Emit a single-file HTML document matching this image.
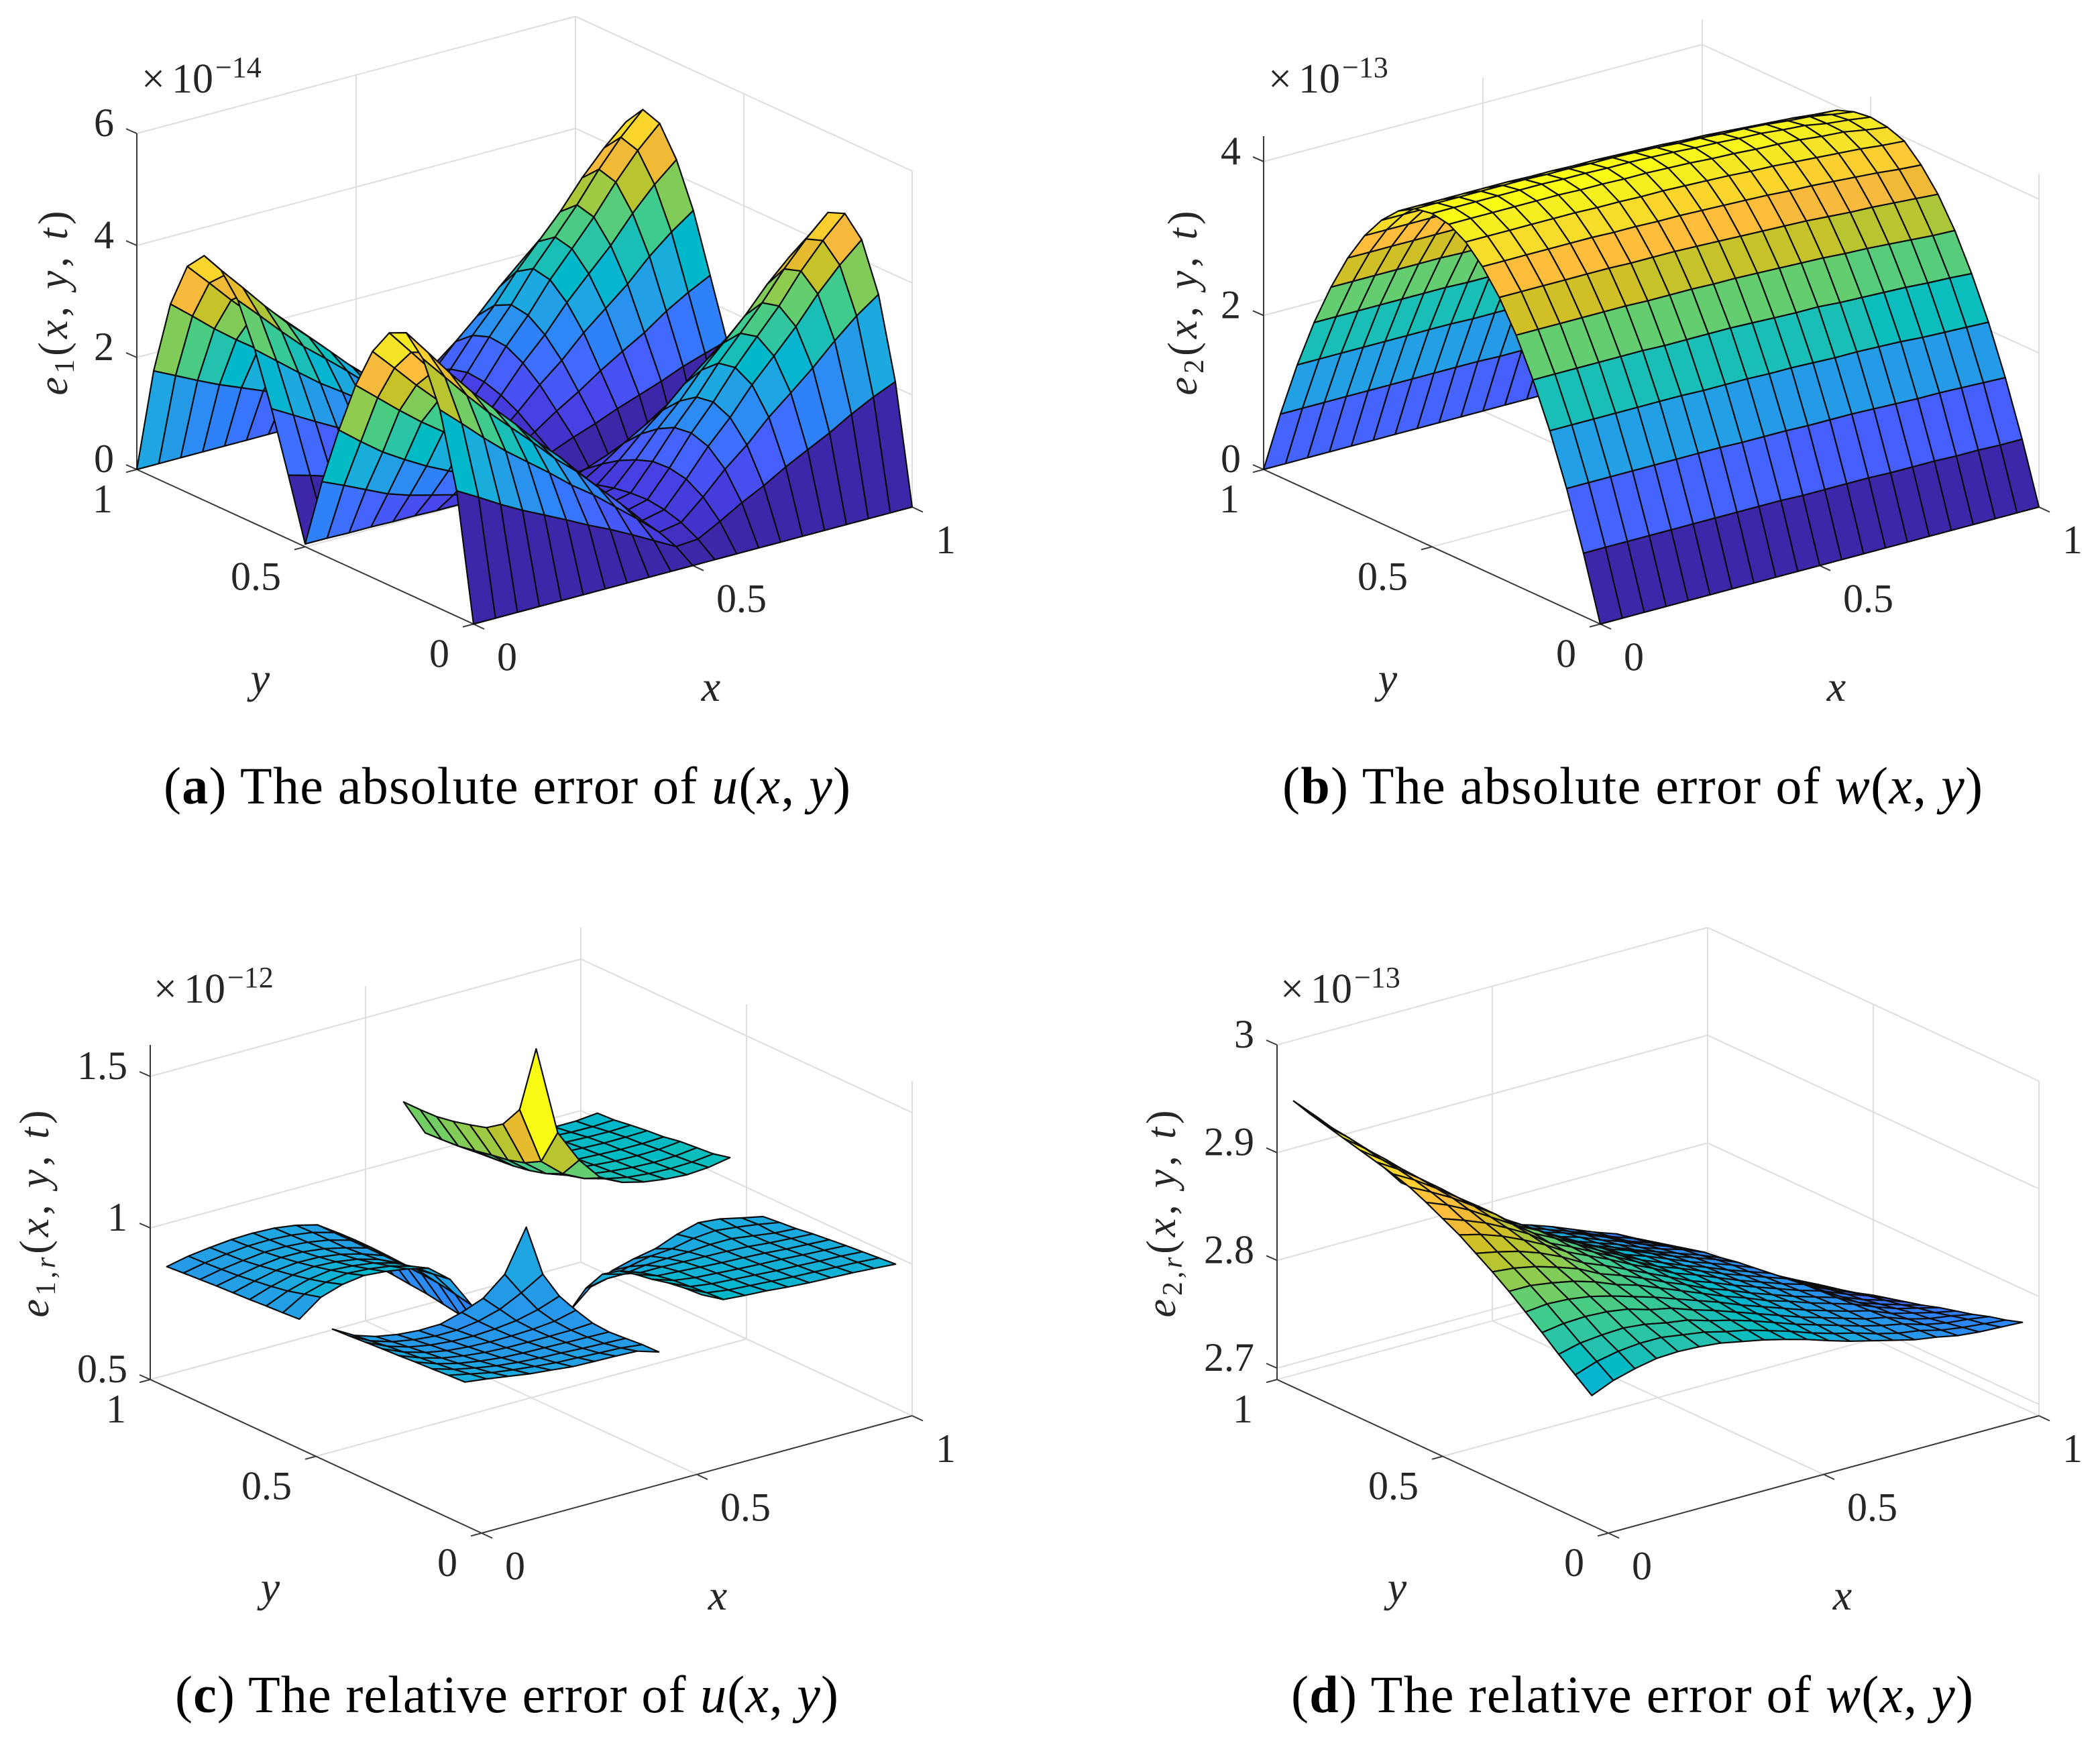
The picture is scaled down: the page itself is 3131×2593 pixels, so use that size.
<!DOCTYPE html>
<html lang="en">
<head>
<meta charset="utf-8">
<title>Absolute and relative error surfaces</title>
<style>
html,body{margin:0;padding:0;background:#fff}
svg{display:block;position:absolute;left:0;top:0}
text{font-family:"Liberation Serif",serif;fill:#262626}
.cap{fill:#000;font-size:78px}
.it{font-style:italic}
.tick{font-size:60px}
.mult{font-size:62px}
.lab{font-size:64px;font-style:italic}
.zl{font-size:62px}
</style>
</head>
<body>
<svg id="figure" xmlns="http://www.w3.org/2000/svg" width="3131" height="2593" viewBox="0 0 3131 2593">
  <rect width="3131" height="2593" fill="#fff"/>

  <g id="panel-a"></g>
  <g id="panel-b"></g>
  <g id="panel-c"></g>
  <g id="panel-d"></g>

  <!-- panel a labels -->
  <text class="mult" x="211" y="138">×<tspan dx="10">10</tspan><tspan font-size="44" dy="-23" dx="3">−14</tspan></text>
  <text class="zl" transform="translate(100,452) rotate(-90)" text-anchor="middle" textLength="275"><tspan class="it">e</tspan><tspan font-size="42" dy="10">1</tspan><tspan dy="-10">(</tspan><tspan class="it">x</tspan>, <tspan class="it">y</tspan>, <tspan class="it">t</tspan>)</text>
  <text class="lab" x="1060" y="1045" text-anchor="middle">x</text>
  <text class="lab" x="388" y="1033" text-anchor="middle">y</text>
  <text class="cap" x="244" y="1198" textLength="1024">(<tspan font-weight="bold">a</tspan>) The absolute error of <tspan class="it">u</tspan>(<tspan class="it">x</tspan>, <tspan class="it">y</tspan>)</text>

  <!-- panel b labels -->
  <text class="mult" x="1891" y="138">×<tspan dx="10">10</tspan><tspan font-size="44" dy="-23" dx="3">−13</tspan></text>
  <text class="zl" transform="translate(1784,452) rotate(-90)" text-anchor="middle" textLength="275"><tspan class="it">e</tspan><tspan font-size="42" dy="10">2</tspan><tspan dy="-10">(</tspan><tspan class="it">x</tspan>, <tspan class="it">y</tspan>, <tspan class="it">t</tspan>)</text>
  <text class="lab" x="2738" y="1045" text-anchor="middle">x</text>
  <text class="lab" x="2069" y="1033" text-anchor="middle">y</text>
  <text class="cap" x="1912" y="1198" textLength="1044">(<tspan font-weight="bold">b</tspan>) The absolute error of <tspan class="it">w</tspan>(<tspan class="it">x</tspan>, <tspan class="it">y</tspan>)</text>

  <!-- panel c labels -->
  <text class="mult" x="229" y="1495">×<tspan dx="10">10</tspan><tspan font-size="44" dy="-23" dx="3">−12</tspan></text>
  <text class="zl" transform="translate(72,1810) rotate(-90)" text-anchor="middle" textLength="309"><tspan class="it">e</tspan><tspan font-size="42" dy="10">1,<tspan class="it">r</tspan></tspan><tspan dy="-10">(</tspan><tspan class="it">x</tspan>, <tspan class="it">y</tspan>, <tspan class="it">t</tspan>)</text>
  <text class="lab" x="1070" y="2400" text-anchor="middle">x</text>
  <text class="lab" x="403" y="2388" text-anchor="middle">y</text>
  <text class="cap" x="261" y="2553" textLength="989">(<tspan font-weight="bold">c</tspan>) The relative error of <tspan class="it">u</tspan>(<tspan class="it">x</tspan>, <tspan class="it">y</tspan>)</text>

  <!-- panel d labels -->
  <text class="mult" x="1909" y="1495">×<tspan dx="10">10</tspan><tspan font-size="44" dy="-23" dx="3">−13</tspan></text>
  <text class="zl" transform="translate(1752,1810) rotate(-90)" text-anchor="middle" textLength="309"><tspan class="it">e</tspan><tspan font-size="42" dy="10">2,<tspan class="it">r</tspan></tspan><tspan dy="-10">(</tspan><tspan class="it">x</tspan>, <tspan class="it">y</tspan>, <tspan class="it">t</tspan>)</text>
  <text class="lab" x="2747" y="2400" text-anchor="middle">x</text>
  <text class="lab" x="2083" y="2388" text-anchor="middle">y</text>
  <text class="cap" x="1925" y="2553" textLength="1017">(<tspan font-weight="bold">d</tspan>) The relative error of <tspan class="it">w</tspan>(<tspan class="it">x</tspan>, <tspan class="it">y</tspan>)</text>
</svg>

<script>
const _ = null;

const xNodes = [0,.05,.1,.15,.2,.25,.3,.35,.4,.45,.5,.55,.6,.65,.7,.75,.8,.85,.9,.95,1];
const yNodes = [0,.05,.1,.15,.2,.25,.3,.35,.4,.45,.5,.55,.6,.65,.7,.75,.8,.85,.9,.95,1];

const xTickValues = [0,.5,1];
const xTickLabels = ["0","0.5","1"];
const yTickValues = [0,.5,1];
const yTickLabels = ["0","0.5","1"];

const zTicksA = [0,2,4,6];
const zLabelsA = ["0","2","4","6"];
const zTicksB = [0,2,4];
const zLabelsB = ["0","2","4"];
const zTicksC = [.5,1,1.5];
const zLabelsC = ["0.5","1","1.5"];
const zTicksD = [2.7,2.8,2.9,3];
const zLabelsD = ["2.7","2.8","2.9","3"];

/* each row is one y node, each column one x node */
const surfaceA = [
[0,0,0,0,0,0,0,0,0,0,0,0,0,0,0,0,0,0,0,0,0],
[2.24,2.02,1.79,1.58,1.39,1.20,1.00,.82,.62,.41,.20,.23,.44,.67,.87,1.10,1.30,1.50,1.73,1.93,2.10],
[3.55,3.20,2.84,2.50,2.20,1.90,1.58,1.30,.98,.66,.32,.39,.74,1.13,1.46,1.85,2.18,2.52,2.90,3.24,3.52],
[4.32,3.89,3.46,3.05,2.68,2.31,1.92,1.58,1.19,.80,.39,.48,.92,1.40,1.81,2.29,2.70,3.12,3.60,4.01,4.36],
[4.65,4.19,3.72,3.28,2.88,2.49,2.07,1.70,1.28,.86,.42,.52,.98,1.50,1.95,2.46,2.91,3.35,3.87,4.31,4.69],
[4.51,4.06,3.61,3.18,2.80,2.41,2.01,1.65,1.24,.83,.41,.50,.96,1.46,1.90,2.40,2.83,3.27,3.77,4.20,4.57],
[4.04,3.64,3.23,2.85,2.50,2.16,1.80,1.47,1.11,.75,.36,.45,.85,1.30,1.69,2.14,2.52,2.91,3.36,3.74,4.07],
[3.30,2.97,2.64,2.33,2.05,1.77,1.47,1.20,.91,.61,.30,.37,.70,1.07,1.39,1.76,2.08,2.40,2.76,3.08,3.35],
[2.36,2.05,1.76,1.52,1.30,1.11,.93,.76,.57,.38,.19,.26,.50,.77,1.00,1.26,1.49,1.72,1.98,2.21,2.40],
[1.30,1.13,.95,.77,.64,.54,.44,.35,.26,.17,.09,.14,.27,.42,.54,.68,.81,.93,1.07,1.20,1.30],
[.05,.05,.04,.04,.03,.03,.02,.02,.01,.01,0,.01,.01,.02,.02,.03,.03,.04,.04,.05,.05],
[1.14,1.03,.91,.80,.71,.61,.51,.42,.31,.21,.10,.16,.30,.46,.60,.76,.90,1.04,1.20,1.33,1.45],
[2.19,1.97,1.75,1.54,1.36,1.17,.97,.80,.60,.41,.20,.27,.52,.79,1.03,1.30,1.54,1.77,2.05,2.28,2.48],
[3.11,2.80,2.49,2.19,1.93,1.66,1.38,1.14,.86,.58,.28,.39,.74,1.12,1.45,1.84,2.17,2.50,2.89,3.22,3.50],
[3.85,3.47,3.08,2.71,2.39,2.06,1.71,1.41,1.06,.71,.35,.47,.90,1.37,1.77,2.24,2.65,3.05,3.52,3.93,4.27],
[4.25,3.83,3.40,3.00,2.64,2.27,1.89,1.55,1.17,.79,.38,.53,1.00,1.53,1.98,2.51,2.96,3.42,3.94,4.40,4.78],
[4.37,3.93,3.50,3.08,2.71,2.34,1.94,1.60,1.20,.81,.39,.54,1.03,1.56,2.03,2.57,3.03,3.50,4.03,4.50,4.89],
[4.04,3.64,3.23,2.85,2.50,2.16,1.80,1.47,1.11,.75,.36,.50,.95,1.45,1.88,2.38,2.81,3.24,3.74,4.17,4.53],
[3.23,2.91,2.58,2.28,2.00,1.73,1.44,1.18,.89,.60,.29,.41,.79,1.20,1.56,1.97,2.33,2.68,3.09,3.45,3.75],
[1.90,1.71,1.52,1.34,1.18,1.02,.85,.69,.52,.35,.17,.25,.48,.74,.95,1.21,1.43,1.64,1.90,2.12,2.30],
[0,0,0,0,0,0,0,0,0,0,0,0,0,0,0,0,0,0,0,0,0]
];

const surfaceB = [
[0,0,0,0,0,0,0,0,0,0,0,0,0,0,0,0,0,0,0,0,0],
[.82,.82,.82,.82,.82,.82,.82,.82,.82,.82,.81,.81,.81,.81,.80,.80,.80,.79,.79,.78,.78],
[1.56,1.56,1.56,1.56,1.56,1.56,1.56,1.56,1.55,1.55,1.55,1.54,1.54,1.54,1.53,1.52,1.51,1.51,1.50,1.49,1.48],
[2.21,2.21,2.21,2.21,2.21,2.21,2.21,2.20,2.20,2.20,2.19,2.19,2.18,2.17,2.17,2.16,2.15,2.13,2.12,2.11,2.10],
[2.77,2.77,2.77,2.77,2.77,2.77,2.76,2.76,2.76,2.76,2.75,2.74,2.73,2.73,2.71,2.70,2.69,2.68,2.66,2.65,2.63],
[3.25,3.25,3.25,3.25,3.25,3.25,3.24,3.24,3.24,3.23,3.23,3.22,3.21,3.20,3.19,3.17,3.16,3.14,3.12,3.10,3.09],
[3.64,3.64,3.64,3.64,3.64,3.64,3.63,3.63,3.63,3.62,3.61,3.60,3.59,3.58,3.57,3.55,3.53,3.52,3.50,3.48,3.46],
[3.94,3.94,3.94,3.94,3.94,3.94,3.93,3.93,3.92,3.92,3.91,3.90,3.89,3.88,3.86,3.85,3.83,3.81,3.79,3.76,3.74],
[4.16,4.16,4.16,4.16,4.16,4.16,4.15,4.15,4.14,4.14,4.13,4.12,4.11,4.09,4.08,4.06,4.04,4.02,4.00,3.97,3.95],
[4.29,4.29,4.29,4.29,4.29,4.29,4.28,4.28,4.27,4.27,4.26,4.25,4.23,4.22,4.20,4.19,4.17,4.14,4.12,4.07,4.03],
[4.33,4.33,4.33,4.33,4.33,4.33,4.32,4.32,4.31,4.31,4.30,4.29,4.27,4.26,4.24,4.23,4.20,4.18,4.13,4.10,4.06],
[4.29,4.29,4.29,4.29,4.29,4.29,4.28,4.28,4.27,4.27,4.26,4.25,4.23,4.22,4.20,4.19,4.17,4.14,4.12,4.07,4.03],
[4.16,4.16,4.16,4.16,4.16,4.16,4.15,4.15,4.14,4.14,4.13,4.12,4.11,4.09,4.08,4.06,4.04,4.02,4.00,3.97,3.95],
[3.94,3.94,3.94,3.94,3.94,3.94,3.93,3.93,3.92,3.92,3.91,3.90,3.89,3.88,3.86,3.85,3.83,3.81,3.79,3.76,3.74],
[3.64,3.64,3.64,3.64,3.64,3.64,3.63,3.63,3.63,3.62,3.61,3.60,3.59,3.58,3.57,3.55,3.53,3.52,3.50,3.48,3.46],
[3.25,3.25,3.25,3.25,3.25,3.25,3.24,3.24,3.24,3.23,3.23,3.22,3.21,3.20,3.19,3.17,3.16,3.14,3.12,3.10,3.09],
[2.77,2.77,2.77,2.77,2.77,2.77,2.76,2.76,2.76,2.76,2.75,2.74,2.73,2.73,2.71,2.70,2.69,2.68,2.66,2.65,2.63],
[2.21,2.21,2.21,2.21,2.21,2.21,2.21,2.20,2.20,2.20,2.19,2.19,2.18,2.17,2.17,2.16,2.15,2.13,2.12,2.11,2.10],
[1.56,1.56,1.56,1.56,1.56,1.56,1.56,1.56,1.55,1.55,1.55,1.54,1.54,1.54,1.53,1.52,1.51,1.51,1.50,1.49,1.48],
[.82,.82,.82,.82,.82,.82,.82,.82,.82,.82,.81,.81,.81,.81,.80,.80,.80,.79,.79,.78,.78],
[0,0,0,0,0,0,0,0,0,0,0,0,0,0,0,0,0,0,0,0,0]
];

const surfaceC = [
[_,_,_,_,_,_,_,_,_,_,_,_,_,_,_,_,_,_,_,_,_],
[.973,.964,.953,.942,.935,.927,.925,.923,.92,.898,_,1.048,1.013,1.007,1.003,.996,.991,.988,.985,.98,.975],
[.97,.955,.94,.93,.922,.915,.912,.908,.905,.897,_,1.044,1.01,1.0,.995,.99,.985,.982,.978,.975,.97],
[.966,.945,.93,.918,.91,.905,.902,.898,.895,.892,_,1.036,1.005,.995,.99,.985,.98,.977,.973,.97,.965],
[.963,.938,.92,.908,.9,.896,.894,.892,.89,.888,_,1.023,1.0,.99,.985,.98,.976,.973,.968,.964,.96],
[.959,.932,.912,.9,.892,.888,.887,.887,.888,.892,_,1.014,.99,.985,.98,.975,.972,.968,.962,.958,.954],
[.956,.926,.905,.892,.885,.882,.882,.885,.892,.909,_,1.0,.975,.975,.972,.97,.968,.964,.957,.952,.948],
[.952,.92,.898,.885,.878,.876,.88,.888,.905,.93,_,.964,.945,.955,.958,.96,.965,.965,.955,.945,.94],
[.948,.912,.89,.877,.87,.87,.88,.9,.935,.977,_,.892,.905,.925,.94,.945,.96,.966,.958,.948,.935],
[.945,.905,.882,.869,.863,.864,.884,.911,.971,1.107,_,.79,.852,.887,.906,.92,.948,.967,.96,.944,.929],
[_,_,_,_,_,_,_,_,_,_,_,_,_,_,_,_,_,_,_,_,_],
[.927,.98,1.003,1.013,1.007,.996,.979,.923,.819,.70,_,1.606,1.31,1.2,1.122,1.088,1.07,1.06,1.055,1.06,1.073],
[.923,.965,.985,.995,.99,.98,.96,.915,.83,.71,_,1.38,1.19,1.13,1.095,1.075,1.06,1.053,1.05,1.052,1.06],
[.92,.95,.97,.98,.975,.965,.945,.905,.84,.717,_,1.307,1.16,1.105,1.08,1.065,1.055,1.048,1.045,1.047,1.055],
[.916,.94,.958,.967,.963,.952,.932,.9,.845,.726,_,1.27,1.144,1.09,1.07,1.058,1.05,1.044,1.042,1.043,1.05],
[.913,.932,.948,.955,.953,.943,.925,.9,.85,.735,_,1.254,1.135,1.08,1.06,1.05,1.044,1.04,1.037,1.037,1.04],
[.91,.925,.938,.946,.945,.936,.92,.9,.853,.74,_,1.24,1.124,1.075,1.055,1.045,1.04,1.036,1.033,1.033,1.035],
[.906,.92,.93,.938,.938,.932,.92,.9,.855,.746,_,1.23,1.114,1.07,1.05,1.04,1.034,1.03,1.027,1.026,1.028],
[.902,.916,.926,.933,.934,.93,.92,.9,.855,.75,_,1.228,1.11,1.065,1.045,1.035,1.028,1.022,1.018,1.017,1.02],
[.898,.913,.922,.929,.931,.928,.918,.90,.853,.76,_,1.228,1.107,1.06,1.04,1.03,1.022,1.015,1.01,1.01,1.017],
[_,_,_,_,_,_,_,_,_,_,_,_,_,_,_,_,_,_,_,_,_]
];

const surfaceD = [
[_,_,_,_,_,_,_,_,_,_,_,_,_,_,_,_,_,_,_,_,_],
[2.81,2.8185,2.824,2.828,2.829,2.828,2.826,2.822,2.818,2.813,2.8075,2.801,2.795,2.79,2.785,2.78,2.777,2.773,2.771,2.77,2.769],
[2.822,2.829,2.833,2.835,2.835,2.832,2.829,2.824,2.820,2.814,2.808,2.801,2.795,2.790,2.784,2.779,2.776,2.771,2.768,2.766,2.764],
[2.834,2.839,2.841,2.842,2.840,2.836,2.833,2.827,2.822,2.816,2.809,2.802,2.796,2.790,2.784,2.779,2.775,2.769,2.765,2.763,2.76],
[2.847,2.850,2.851,2.850,2.847,2.841,2.837,2.830,2.824,2.817,2.810,2.803,2.796,2.790,2.784,2.778,2.774,2.767,2.762,2.759,2.755],
[2.859,2.861,2.860,2.857,2.852,2.846,2.840,2.833,2.826,2.819,2.811,2.804,2.797,2.790,2.784,2.778,2.773,2.765,2.760,2.755,2.751],
[2.871,2.871,2.868,2.864,2.858,2.850,2.844,2.836,2.828,2.820,2.812,2.805,2.797,2.791,2.784,2.778,2.772,2.764,2.757,2.752,2.747],
[2.882,2.880,2.876,2.870,2.863,2.853,2.846,2.838,2.829,2.821,2.812,2.805,2.797,2.790,2.783,2.777,2.771,2.761,2.754,2.748,2.742],
[2.892,2.888,2.883,2.876,2.867,2.856,2.848,2.839,2.830,2.821,2.812,2.805,2.797,2.790,2.783,2.776,2.770,2.759,2.751,2.745,2.738],
[2.902,2.897,2.890,2.881,2.871,2.859,2.850,2.841,2.831,2.822,2.812,2.805,2.797,2.789,2.782,2.775,2.769,2.757,2.749,2.742,2.734],
[2.91,2.903,2.895,2.885,2.874,2.860,2.851,2.841,2.831,2.821,2.811,2.804,2.796,2.788,2.781,2.774,2.767,2.755,2.746,2.738,2.73],
[2.918,2.910,2.900,2.888,2.876,2.862,2.852,2.841,2.830,2.820,2.810,2.802,2.794,2.787,2.779,2.772,2.765,2.752,2.743,2.734,2.725],
[2.925,2.915,2.904,2.891,2.878,2.862,2.852,2.840,2.829,2.819,2.808,2.801,2.793,2.785,2.778,2.771,2.763,2.750,2.740,2.731,2.721],
[2.93,2.919,2.906,2.892,2.878,2.861,2.850,2.838,2.827,2.816,2.806,2.799,2.791,2.783,2.776,2.769,2.761,2.747,2.737,2.727,2.717],
[2.934,2.922,2.908,2.893,2.877,2.859,2.848,2.836,2.824,2.813,2.802,2.795,2.787,2.780,2.773,2.766,2.758,2.744,2.733,2.723,2.712],
[2.938,2.924,2.909,2.893,2.877,2.858,2.846,2.833,2.821,2.810,2.799,2.792,2.785,2.777,2.770,2.764,2.756,2.741,2.730,2.719,2.708],
[2.942,2.927,2.911,2.893,2.876,2.856,2.844,2.831,2.819,2.807,2.796,2.790,2.782,2.775,2.767,2.760,2.752,2.738,2.726,2.716,2.704],
[2.946,2.930,2.912,2.894,2.876,2.855,2.842,2.828,2.816,2.804,2.793,2.787,2.780,2.772,2.763,2.756,2.748,2.735,2.723,2.712,2.70],
[2.95,2.932,2.914,2.894,2.875,2.853,2.839,2.826,2.813,2.800,2.790,2.783,2.776,2.768,2.760,2.753,2.744,2.733,2.720,2.708,2.696],
[2.955,2.936,2.916,2.895,2.875,2.852,2.838,2.824,2.810,2.797,2.786,2.780,2.773,2.765,2.757,2.75,2.74,2.73,2.717,2.705,2.692],
[_,_,_,_,_,_,_,_,_,_,_,_,_,_,_,_,_,_,_,_,_]
];

const parula = [
[.2422,.1504,.6603],[.2504,.1650,.7076],[.2578,.1818,.7511],[.2647,.1978,.7952],[.2706,.2147,.8364],[.2751,.2342,.8710],[.2783,.2559,.8991],[.2803,.2782,.9221],
[.2813,.3006,.9414],[.2810,.3228,.9579],[.2795,.3447,.9717],[.2760,.3667,.9829],[.2699,.3892,.9906],[.2602,.4123,.9952],[.2440,.4358,.9988],[.2206,.4603,.9973],
[.1963,.4847,.9892],[.1834,.5074,.9798],[.1786,.5289,.9682],[.1764,.5499,.9520],[.1687,.5703,.9359],[.1540,.5902,.9218],[.1460,.6091,.9079],[.1380,.6276,.8973],
[.1248,.6459,.8883],[.1113,.6635,.8763],[.0952,.6798,.8598],[.0689,.6948,.8394],[.0297,.7082,.8163],[.0036,.7203,.7917],[.0067,.7312,.7660],[.0433,.7411,.7394],
[.0964,.7500,.7120],[.1408,.7584,.6842],[.1717,.7670,.6554],[.1938,.7758,.6251],[.2161,.7843,.5923],[.2470,.7918,.5567],[.2906,.7973,.5188],[.3406,.8008,.4789],
[.3909,.8029,.4354],[.4456,.8024,.3909],[.5044,.7993,.3480],[.5616,.7942,.3045],[.6174,.7876,.2612],[.6720,.7793,.2227],[.7242,.7698,.1910],[.7738,.7598,.1646],
[.8203,.7498,.1535],[.8634,.7406,.1596],[.9035,.7330,.1774],[.9393,.7288,.2100],[.9728,.7298,.2394],[.9956,.7434,.2371],[.9970,.7659,.2199],[.9952,.7893,.2028],
[.9892,.8136,.1885],[.9786,.8386,.1766],[.9676,.8639,.1643],[.9610,.8890,.1537],[.9597,.9135,.1423],[.9628,.9373,.1265],[.9691,.9606,.1064],[.9769,.9839,.0805]
];

const panelA = {id:'panel-a', L:[204,700],  F:[706,930.5], R:[1360,756],  zLim:[0,6],       zPx:501, cLim:[0,4.89],      z:surfaceA, zTicks:zTicksA, zLabels:zLabelsA};
const panelB = {id:'panel-b', L:[1884,700], F:[2386,930.5],R:[3040,756],  zLim:[0,4.33],    zPx:497, cLim:[0,4.33],      z:surfaceB, zTicks:zTicksB, zLabels:zLabelsB};
const panelC = {id:'panel-c', L:[224,2057], F:[718,2286],  R:[1360,2111], zLim:[.5,1.604],  zPx:499, cLim:[.52,1.606],   z:surfaceC, zTicks:zTicksC, zLabels:zLabelsC};
const panelD = {id:'panel-d', L:[1904,2057],F:[2398,2286], R:[3040,2111], zLim:[2.6894,3],  zPx:499, cLim:[2.692,2.955], z:surfaceD, zTicks:zTicksD, zLabels:zLabelsD};

const NS = 'http://www.w3.org/2000/svg';

function project(p, x, y, z){
  const h = (z - p.zLim[0]) / (p.zLim[1] - p.zLim[0]) * p.zPx;
  return [
    p.F[0] + x * (p.R[0] - p.F[0]) + y * (p.L[0] - p.F[0]),
    p.F[1] + x * (p.R[1] - p.F[1]) + y * (p.L[1] - p.F[1]) - h
  ];
}
function colorOf(p, v){
  const t = (v - p.cLim[0]) / (p.cLim[1] - p.cLim[0]);
  const k = Math.max(0, Math.min(63, Math.floor(t * 64)));
  const c = parula[k];
  return 'rgb(' + c.map(n => Math.round(n * 255)).join(',') + ')';
}
function segment(parent, a, b, stroke, width){
  const el = document.createElementNS(NS, 'line');
  el.setAttribute('x1', a[0].toFixed(1));
  el.setAttribute('y1', a[1].toFixed(1));
  el.setAttribute('x2', b[0].toFixed(1));
  el.setAttribute('y2', b[1].toFixed(1));
  el.setAttribute('stroke', stroke);
  el.setAttribute('stroke-width', width);
  parent.appendChild(el);
  return el;
}
function label(parent, x, y, str, anchor){
  const el = document.createElementNS(NS, 'text');
  el.setAttribute('x', x.toFixed(1));
  el.setAttribute('y', y.toFixed(1));
  el.setAttribute('text-anchor', anchor);
  el.setAttribute('class', 'tick');
  el.textContent = str;
  parent.appendChild(el);
  return el;
}

function drawPanel(p){
  const g = document.getElementById(p.id);
  const zMin = p.zLim[0], zMax = p.zLim[1];
  const gridColor = '#dedede', axisColor = '#3a3a3a';

  /* wall and floor grid */
  p.zTicks.forEach(v => {
    let el = segment(g, project(p,0,1,v), project(p,1,1,v), gridColor, 2);
    
    
    el = segment(g, project(p,1,1,v), project(p,1,0,v), gridColor, 2);
    
    
  });
  xTickValues.forEach(v => {
    let el = segment(g, project(p,v,1,zMin), project(p,v,1,zMax), gridColor, 2);
    
    
    el = segment(g, project(p,v,0,zMin), project(p,v,1,zMin), gridColor, 2);
    
    
  });
  yTickValues.forEach(v => {
    let el = segment(g, project(p,1,v,zMin), project(p,1,v,zMax), gridColor, 2);
    
    
    el = segment(g, project(p,0,v,zMin), project(p,1,v,zMin), gridColor, 2);
    
    
  });

  /* axis rulers */
  let ruler = segment(g, project(p,0,0,zMin), project(p,1,0,zMin), axisColor, 2);
  
  
  ruler = segment(g, project(p,0,0,zMin), project(p,0,1,zMin), axisColor, 2);
  
  
  ruler = segment(g, project(p,0,1,zMin), project(p,0,1,zMax), axisColor, 2);
  
  

  /* ticks and tick labels */
  xTickValues.forEach((v, n) => {
    const a = project(p,v,0,zMin);
    const t = segment(g, a, [a[0] + 16, a[1] + 7.5], axisColor, 2);
    
    
    const l = label(g, a[0] + 35, a[1] + 69, xTickLabels[n], 'start');
    
    
  });
  yTickValues.forEach((v, n) => {
    const a = project(p,0,v,zMin);
    const t = segment(g, a, [a[0] - 16, a[1] + 4.3], axisColor, 2);
    
    
    const l = label(g, a[0] - 36, a[1] + 64, yTickLabels[n], 'end');
    
    
  });
  p.zTicks.forEach((v, n) => {
    const a = project(p,0,1,v);
    const t = segment(g, a, [a[0] - 16, a[1] - 7], axisColor, 2);
    
    
    const l = label(g, a[0] - 34, a[1] + 4, p.zLabels[n], 'end');
    
    
  });

  /* surface, far cells first */
  const surf = document.createElementNS(NS, 'g');
  
  
  surf.setAttribute('stroke', '#0c0c0c');
  surf.setAttribute('stroke-width', '2.2');
  surf.setAttribute('stroke-linejoin', 'round');
  g.appendChild(surf);
  for (let j = yNodes.length - 2; j >= 0; j--){
    for (let i = xNodes.length - 2; i >= 0; i--){
      const a = p.z[j][i], b = p.z[j][i+1], c = p.z[j+1][i+1], d = p.z[j+1][i];
      if (a === null || b === null || c === null || d === null) continue;
      const pts = [
        project(p, xNodes[i],   yNodes[j],   a),
        project(p, xNodes[i+1], yNodes[j],   b),
        project(p, xNodes[i+1], yNodes[j+1], c),
        project(p, xNodes[i],   yNodes[j+1], d)
      ];
      const cell = document.createElementNS(NS, 'polygon');
      cell.setAttribute('points', pts.map(q => q[0].toFixed(1) + ',' + q[1].toFixed(1)).join(' '));
      cell.setAttribute('fill', colorOf(p, a));
      
      
      surf.appendChild(cell);
    }
  }
}

drawPanel(panelA);
drawPanel(panelB);
drawPanel(panelC);
drawPanel(panelD);
</script>
</body>
</html>
